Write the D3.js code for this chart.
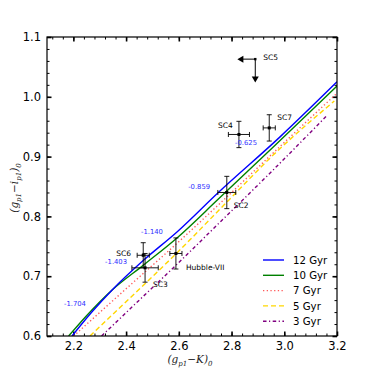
<!DOCTYPE html>
<html lang="en">
<head>
<meta charset="UTF-8">
<title>Colour-colour diagram</title>
<script src="https://d3js.org/d3.v7.min.js"></script>
<style>
    body { margin: 0; background: #fff; }
    text { font-family: "DejaVu Sans", sans-serif; }
    .axis-title { font-family: "DejaVu Serif", serif; font-style: italic; }
</style>
</head>
<body>
<svg width="374" height="374"></svg>
<script>
    // model tracks: [colour g-K, colour g-i]
    const ages = ["12 Gyr", "10 Gyr", "7 Gyr", "5 Gyr", "3 Gyr"];
    const track12 = [[2.195, 0.600], [2.27, 0.640], [2.347, 0.677], [2.467, 0.727], [2.593, 0.774], [2.75, 0.840], [2.984, 0.933], [3.2, 1.025]];
    const track10 = [[2.182, 0.600], [2.25, 0.634], [2.347, 0.677], [2.467, 0.719], [2.593, 0.764], [2.75, 0.829], [2.984, 0.927], [3.2, 1.018]];
    const track7 = [[2.201, 0.600], [2.40, 0.679], [2.593, 0.755], [2.80, 0.840], [2.984, 0.917], [3.2, 1.006]];
    const track5 = [[2.263, 0.600], [2.43, 0.670], [2.593, 0.739], [2.78, 0.823], [2.959, 0.903], [3.19, 0.993]];
    const track3 = [[2.307, 0.600], [2.45, 0.660], [2.593, 0.720], [2.76, 0.792], [2.938, 0.869], [3.165, 0.970]];

    // clusters: name, x, y, xerr, yerr
    const clusterNames = ["SC6", "SC3", "Hubble-VII", "SC2", "SC4", "SC7"];
    const clusterX = [2.465, 2.472, 2.589, 2.782, 2.828, 2.943];
    const clusterY = [0.735, 0.714, 0.738, 0.840, 0.937, 0.948];
    const clusterXErr = [0.023, 0.050, 0.023, 0.034, 0.040, 0.023];
    const clusterYErr = [0.021, 0.024, 0.026, 0.027, 0.022, 0.022];

    // SC5 upper limit
    const limitX = 2.89, limitY = 1.063, limitXEnd = 2.822, limitYEnd = 1.024;

    // [Fe/H] marks along the 12 Gyr track
    const fehLabels = ["-1.704", "-1.403", "-1.140", "-0.859", "-0.625"];
    const fehX = [2.206, 2.362, 2.498, 2.677, 2.855];
    const fehY = [0.651, 0.721, 0.771, 0.846, 0.919];

    const xTicks = [2.2, 2.4, 2.6, 2.8, 3.0, 3.2];
    const yTicks = [0.6, 0.7, 0.8, 0.9, 1.0, 1.1];

    const svg = d3.select("svg");
    const pLeft = 47, pRight = 337, pTop = 37, pBottom = 336;

    const x = d3.scaleLinear().domain([2.1, 3.2]).range([pLeft, pRight]);
    const y = d3.scaleLinear().domain([0.6, 1.1]).range([pBottom, pTop]);

    svg.append("clipPath").attr("id", "clip")
        .append("rect").attr("x", pLeft).attr("y", pTop)
        .attr("width", pRight - pLeft).attr("height", pBottom - pTop);

    // ticks on every side, pointing inwards
    const xMinor = d3.range(2.12, 3.2001, 0.04);
    const yMinor = d3.range(0.6, 1.1001, 0.02);

    function addAxis(axis, transform, major, minor, labels) {
        const g = svg.append("g").attr("transform", transform);
        g.call(axis.tickValues(minor).tickSize(-2.5).tickFormat(""));
        const gm = svg.append("g").attr("transform", transform);
        gm.call(axis.tickValues(major).tickSize(-4.5).tickPadding(6)
            .tickFormat(labels ? d3.format(".1f") : ""));
        [g, gm].forEach(a => {
            a.select(".domain").remove();
            a.selectAll("line").attr("stroke", "#000");
        });
        gm.selectAll("line").attr("stroke-width", 1.6);
        gm.selectAll("text").attr("font-size", 11.5).attr("fill", "#000")
            .style("font-family", "'DejaVu Sans', sans-serif");
    }
    addAxis(d3.axisBottom(x), `translate(0,${pBottom})`, xTicks, xMinor, true);
    addAxis(d3.axisTop(x), `translate(0,${pTop})`, xTicks, xMinor, false);
    addAxis(d3.axisLeft(y), `translate(${pLeft},0)`, yTicks, yMinor, true);
    addAxis(d3.axisRight(y), `translate(${pRight},0)`, yTicks, yMinor, false);

    // model tracks
    const line = d3.line().x(d => x(d[0])).y(d => y(d[1])).curve(d3.curveMonotoneX);
    const tracks = [
        { data: track12, color: "#0000ff", dash: null },
        { data: track10, color: "#008000", dash: null },
        { data: track7, color: "#ff5a5a", dash: "1.3,2.4" },
        { data: track5, color: "#ffd700", dash: "5,3" },
        { data: track3, color: "#800080", dash: "3.5,2.5,1.2,2.5" }
    ];
    const plot = svg.append("g").attr("clip-path", "url(#clip)");
    tracks.slice().reverse().forEach(t => {
        plot.append("path")
            .attr("d", line(t.data))
            .attr("fill", "none")
            .attr("stroke", t.color)
            .attr("stroke-width", 1.4)
            .attr("stroke-dasharray", t.dash);
    });

    // error bars
    const cap = 2.5;
    clusterNames.forEach((name, i) => {
        const cx = x(clusterX[i]), cy = y(clusterY[i]);
        const x0 = x(clusterX[i] - clusterXErr[i]), x1 = x(clusterX[i] + clusterXErr[i]);
        const y0 = y(clusterY[i] - clusterYErr[i]), y1 = y(clusterY[i] + clusterYErr[i]);
        const g = svg.append("g").attr("stroke", "#000").attr("stroke-width", 0.9);
        g.append("line").attr("x1", x0).attr("x2", x1).attr("y1", cy).attr("y2", cy);
        g.append("line").attr("x1", cx).attr("x2", cx).attr("y1", y0).attr("y2", y1);
        g.append("line").attr("x1", x0).attr("x2", x0).attr("y1", cy - cap).attr("y2", cy + cap);
        g.append("line").attr("x1", x1).attr("x2", x1).attr("y1", cy - cap).attr("y2", cy + cap);
        g.append("line").attr("x1", cx - cap).attr("x2", cx + cap).attr("y1", y0).attr("y2", y0);
        g.append("line").attr("x1", cx - cap).attr("x2", cx + cap).attr("y1", y1).attr("y2", y1);
        svg.append("rect").attr("x", cx - 1.5).attr("y", cy - 1.5)
            .attr("width", 3).attr("height", 3).attr("fill", "#000");
    });

    // cluster names
    const nameOffsets = [[-27, 1], [8, 19], [10, 17], [7, 16], [-21, -6], [8, -8]];
    clusterNames.forEach((name, i) => {
        svg.append("text")
            .attr("x", x(clusterX[i]) + nameOffsets[i][0])
            .attr("y", y(clusterY[i]) + nameOffsets[i][1])
            .attr("font-size", 7.5)
            .attr("fill", "#000")
            .text(name);
    });

    // SC5 limits
    const lx = x(limitX), ly = y(limitY);
    svg.append("line").attr("x1", lx).attr("x2", x(limitXEnd) + 5)
        .attr("y1", ly).attr("y2", ly).attr("stroke", "#000").attr("stroke-width", 1);
    svg.append("line").attr("x1", lx).attr("x2", lx)
        .attr("y1", ly).attr("y2", y(limitYEnd) - 5).attr("stroke", "#000").attr("stroke-width", 1);
    svg.append("path")
        .attr("d", `M${x(limitXEnd)},${ly} l6,-3.5 l0,7 z`).attr("fill", "#000");
    svg.append("path")
        .attr("d", `M${lx},${y(limitYEnd)} l-3.5,-6 l7,0 z`).attr("fill", "#000");
    svg.append("rect").attr("x", lx - 1.2).attr("y", ly - 1.2)
        .attr("width", 2.4).attr("height", 2.4).attr("fill", "#000");
    svg.append("text").attr("x", lx + 8).attr("y", ly + 1)
        .attr("font-size", 7.5).attr("fill", "#000").text("SC5");

    // metallicity labels
    fehLabels.forEach((t, i) => {
        svg.append("text")
            .attr("x", x(fehX[i]))
            .attr("y", y(fehY[i]))
            .attr("text-anchor", "middle")
            .attr("font-size", 6.8)
            .attr("fill", "#3030ff")
            .text(t);
    });

    // legend
    const legend = svg.append("g").attr("transform", "translate(263,260)");
    ages.forEach((a, i) => {
        const t = tracks[i];
        const row = legend.append("g").attr("transform", `translate(0,${i * 15.3})`);
        row.append("line").attr("x1", 0).attr("x2", 21).attr("y1", 0).attr("y2", 0)
            .attr("stroke", t.color).attr("stroke-width", 1.4)
            .attr("stroke-dasharray", t.dash);
        row.append("text").attr("x", 30).attr("y", 3.8)
            .attr("font-size", 10.2).attr("fill", "#000").text(a);
    });

    // axis titles
    const xt = svg.append("text").attr("class", "axis-title")
        .attr("x", 190).attr("y", 363).attr("text-anchor", "middle")
        .attr("font-size", 10.5).attr("fill", "#222");
    xt.append("tspan").text("(g");
    xt.append("tspan").attr("font-size", 7).attr("dy", 2.5).text("p1");
    xt.append("tspan").attr("dy", -2.5).text("\u2212K)");
    xt.append("tspan").attr("font-size", 7).attr("dy", 2.5).text("0");

    const yt = svg.append("text").attr("class", "axis-title")
        .attr("transform", "translate(18,188) rotate(-90)")
        .attr("text-anchor", "middle")
        .attr("font-size", 10.5).attr("fill", "#222");
    yt.append("tspan").text("(g");
    yt.append("tspan").attr("font-size", 7).attr("dy", 2.5).text("p1");
    yt.append("tspan").attr("dy", -2.5).text("\u2212i");
    yt.append("tspan").attr("font-size", 7).attr("dy", 2.5).text("p1");
    yt.append("tspan").attr("dy", -2.5).text(")");
    yt.append("tspan").attr("font-size", 7).attr("dy", 2.5).text("0");

    // frame
    svg.append("rect").attr("x", pLeft).attr("y", pTop)
        .attr("width", pRight - pLeft).attr("height", pBottom - pTop)
        .attr("fill", "none").attr("stroke", "#000").attr("stroke-width", 1.2);
</script>
</body>
</html>
